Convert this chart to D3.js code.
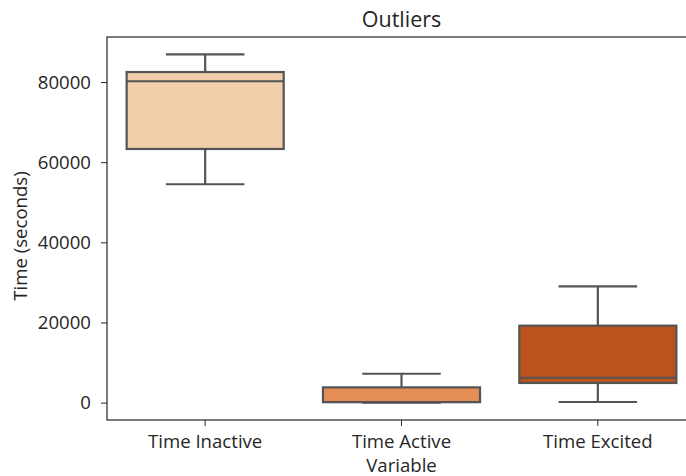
<!DOCTYPE html>
<html>
<head>
<meta charset="utf-8">
<script src="https://cdn.jsdelivr.net/npm/d3@7"></script>
<style>
  html, body { margin: 0; padding: 0; background: #fff; }
  svg { display: block; font-family: "Open Sans", sans-serif; }
</style>
</head>
<body>
<svg id="chart" width="686" height="476"></svg>
<script>
// Box-plot summary statistics per variable (seconds)
const categories = ["Time Inactive", "Time Active", "Time Excited"];
const whiskerLow  = [54500,   0,   150];
const q1          = [63300, 100,  4900];
const median      = [80200, 150,  6200];
const q3          = [82500, 3800, 19200];
const whiskerHigh = [86900, 7200, 29000];
const fills = ["#f1ceaa", "#e48d54", "#bc521c"];
const yTicks = [0, 20000, 40000, 60000, 80000];

const svg = d3.select("#chart");
const m = { left: 107, right: 696, top: 37, bottom: 420 };

const lo = d3.min(whiskerLow), hi = d3.max(whiskerHigh);
const pad = (hi - lo) * 0.05;
const y = d3.scaleLinear().domain([lo - pad, hi + pad]).range([m.bottom, m.top]);
const x = d3.scaleBand().domain(categories).range([m.left, m.right]).padding(0);
const bw = x.bandwidth() * 0.8;
const cx = c => x(c) + x.bandwidth() / 2;

const lineColor = "#545454";
const lw = 2.2;
const textColor = "#262626";
const labelSize = "18.6px";

const boxes = categories.map((c, i) => ({
  c, lo: whiskerLow[i], q1: q1[i], med: median[i], q3: q3[i], hi: whiskerHigh[i], fill: fills[i]
}));

const g = svg.append("g");
boxes.forEach(b => {
  const xc = cx(b.c);
  // whiskers
  g.append("line").attr("x1", xc).attr("x2", xc).attr("y1", y(b.q3)).attr("y2", y(b.hi))
    .attr("stroke", lineColor).attr("stroke-width", lw);
  g.append("line").attr("x1", xc).attr("x2", xc).attr("y1", y(b.q1)).attr("y2", y(b.lo))
    .attr("stroke", lineColor).attr("stroke-width", lw);
  // caps
  [b.lo, b.hi].forEach(v => {
    g.append("line").attr("x1", xc - bw / 4).attr("x2", xc + bw / 4).attr("y1", y(v)).attr("y2", y(v))
      .attr("stroke", lineColor).attr("stroke-width", lw);
  });
  // box
  g.append("rect").attr("x", xc - bw / 2).attr("width", bw)
    .attr("y", y(b.q3)).attr("height", y(b.q1) - y(b.q3))
    .attr("fill", b.fill).attr("stroke", lineColor).attr("stroke-width", lw);
  // median
  g.append("line").attr("x1", xc - bw / 2).attr("x2", xc + bw / 2).attr("y1", y(b.med)).attr("y2", y(b.med))
    .attr("stroke", lineColor).attr("stroke-width", lw);
});

// axes
const yAxis = svg.append("g").attr("transform", `translate(${m.left},0)`)
  .call(d3.axisLeft(y).tickValues(yTicks).tickFormat(d3.format("d")).tickSizeOuter(0).tickSize(6).tickPadding(10));
const xAxis = svg.append("g").attr("transform", `translate(0,${m.bottom})`)
  .call(d3.axisBottom(x).tickSizeOuter(0).tickSize(6).tickPadding(9));
[yAxis, xAxis].forEach(a => {
  a.attr("font-family", null).attr("font-size", null);
  a.selectAll("text").attr("fill", textColor).style("font-size", labelSize);
  a.selectAll("line").attr("stroke", textColor);
  a.select(".domain").remove();
});

// frame
svg.append("rect").attr("x", m.left).attr("y", m.top)
  .attr("width", m.right - m.left).attr("height", m.bottom - m.top)
  .attr("fill", "none").attr("stroke", textColor).attr("stroke-width", 1.2);

// labels
svg.append("text").attr("x", (m.left + m.right) / 2).attr("y", 26.5)
  .attr("text-anchor", "middle").attr("fill", textColor).style("font-size", "21.5px").text("Outliers");
svg.append("text").attr("x", (m.left + m.right) / 2).attr("y", 471.5)
  .attr("text-anchor", "middle").attr("fill", textColor).style("font-size", labelSize).text("Variable");
svg.append("text").attr("transform", `translate(26.5,236) rotate(-90)`)
  .attr("text-anchor", "middle").attr("fill", textColor).style("font-size", labelSize).text("Time (seconds)");
</script>
</body>
</html>
